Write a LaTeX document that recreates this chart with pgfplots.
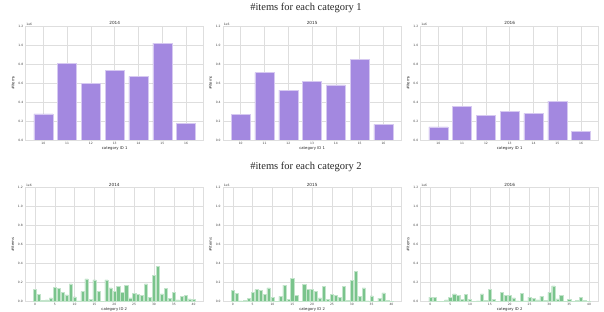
\documentclass[border=0pt]{standalone}
\usepackage{pgfplots}
\pgfplotsset{compat=1.18}
\usepackage{pgfplotstable}
\usepackage{fontspec}
\setmainfont{Liberation Serif}
\newfontfamily\axfont{DejaVu Sans}
\definecolor{barpurple}{RGB}{163,136,224}
\definecolor{bargreen}{RGB}{122,196,140}
\definecolor{gridgray}{RGB}{222,222,222}

\pgfplotstableread{
cat y14 y15 y16
10 0.274 0.270 0.138
11 0.810 0.709 0.355
12 0.597 0.526 0.259
13 0.733 0.620 0.305
14 0.670 0.579 0.280
15 1.020 0.849 0.408
16 0.172 0.165 0.089
}\tabA

\pgfplotstableread{
cat y14 y15 y16
0 0.130 0.116 0.046
1 0.077 0.084 0.046
2 0.010 0.007 0.002
3 0.018 0.014 0.004
4 0.039 0.032 0.018
5 0.147 0.098 0.042
6 0.137 0.126 0.081
7 0.100 0.116 0.063
8 0.070 0.077 0.025
9 0.186 0.144 0.077
10 0.049 0.046 0.021
11 0.007 0.004 0.000
12 0.105 0.053 0.007
13 0.239 0.172 0.081
14 0.025 0.021 0.011
15 0.228 0.246 0.130
16 0.105 0.067 0.021
17 0.000 0.000 0.000
18 0.228 0.182 0.098
19 0.144 0.130 0.067
20 0.105 0.130 0.067
21 0.158 0.105 0.039
22 0.095 0.039 0.007
23 0.172 0.158 0.084
24 0.039 0.025 0.007
25 0.088 0.077 0.046
26 0.077 0.063 0.035
27 0.063 0.042 0.018
28 0.186 0.158 0.056
29 0.042 0.014 0.011
30 0.277 0.221 0.095
31 0.368 0.319 0.165
32 0.081 0.056 0.028
33 0.137 0.144 0.063
34 0.035 0.007 0.004
35 0.098 0.060 0.025
36 0.018 0.000 0.000
37 0.053 0.035 0.011
38 0.067 0.091 0.046
39 0.028 0.014 0.011
40 0.025 0.004 0.004
}\tabB

\pgfplotsset{
  panel/.style={
    scale only axis, width=178pt, height=114pt, anchor=north west,
    ymin=0, ymax=1.2, ytick={0,0.2,...,1.2},
    ybar,
    axis line style={draw=gridgray, line width=0.6pt},
    grid=major, major grid style={draw=gridgray, line width=0.5pt},
    major tick length=0pt,
    /pgf/number format/assume math mode=true,
    yticklabel style={/pgf/number format/fixed, /pgf/number format/fixed zerofill, /pgf/number format/precision=1},
    tick label style={font=\axfont\fontsize{3}{3.5}\selectfont, text=black!75},
    ylabel={\#items},
    label style={font=\axfont\fontsize{3.8}{4}\selectfont, text=black!85},
    title style={font=\axfont\fontsize{4.2}{4.5}\selectfont, text=black!85, yshift=-8.5pt},
    ylabel style={yshift=-3pt},
    xlabel style={yshift=4.5pt},
    yticklabel style={xshift=1pt},
    xticklabel style={yshift=1.5pt},
    after end axis/.code={\node[anchor=south west, inner sep=0.5pt, font=\axfont\fontsize{3}{3.5}\selectfont, text=black!75] at (rel axis cs:0,1) {1e6};},
  },
  toprow/.style={panel, xmin=9.26, xmax=16.74, xtick={10,...,16}, bar width=0.8, xlabel={category ID 1}},
  botrow/.style={panel, xmin=-2.44, xmax=42.44, xtick={0,5,...,40}, bar width=0.8, xlabel={category ID 2}},
  pbar/.style={fill=barpurple, draw=barpurple!45!white, line width=0.5pt},
  gbar/.style={fill=bargreen, draw=bargreen!45!white, line width=0.4pt},
}

\begin{document}
\begin{tikzpicture}
\useasboundingbox (0,0) rectangle (604pt,-312pt);
\node[font=\fontsize{10.5}{12}\selectfont, text=black!85] at (306pt,-7.5pt) {\#items for each category 1};
\node[font=\fontsize{10.5}{12}\selectfont, text=black!85] at (306pt,-167pt) {\#items for each category 2};

\begin{axis}[toprow, at={(25.7pt,-26pt)}, title={2014}]
\addplot[pbar] table[x=cat, y=y14] {\tabA};
\end{axis}
\begin{axis}[toprow, at={(223.1pt,-26pt)}, title={2015}]
\addplot[pbar] table[x=cat, y=y15] {\tabA};
\end{axis}
\begin{axis}[toprow, at={(420.7pt,-26pt)}, title={2016}]
\addplot[pbar] table[x=cat, y=y16] {\tabA};
\end{axis}

\begin{axis}[botrow, at={(25.3pt,-187.5pt)}, title={2014}]
\addplot[gbar] table[x=cat, y=y14] {\tabB};
\end{axis}
\begin{axis}[botrow, at={(223.1pt,-187.5pt)}, title={2015}]
\addplot[gbar] table[x=cat, y=y15] {\tabB};
\end{axis}
\begin{axis}[botrow, at={(420.7pt,-187.5pt)}, title={2016}]
\addplot[gbar] table[x=cat, y=y16] {\tabB};
\end{axis}
\end{tikzpicture}
\end{document}
